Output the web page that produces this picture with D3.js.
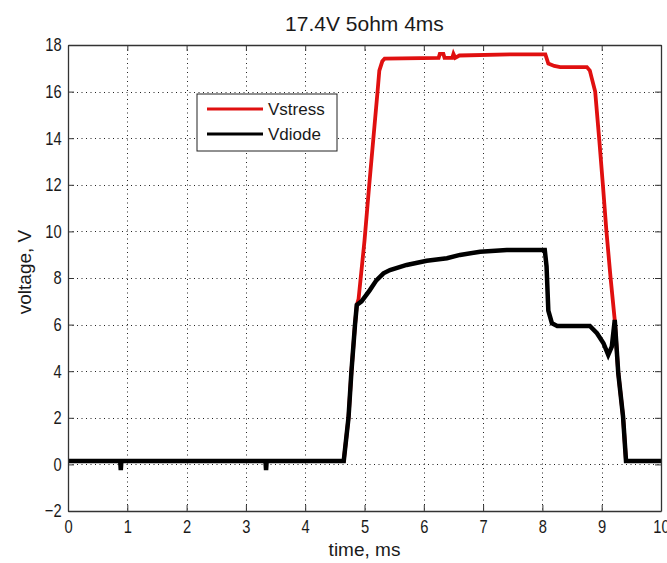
<!DOCTYPE html>
<html>
<head>
<meta charset="utf-8">
<script src="https://cdn.jsdelivr.net/npm/d3@7"></script>
<style>
  html, body { margin: 0; padding: 0; background: #fff; }
  svg text { font-family: "Liberation Sans", Arial, Helvetica, sans-serif; fill: #1a1a1a; }
</style>
</head>
<body>
<svg id="chart" width="667" height="563"></svg>
<script>
// ---- data ----
const titleText = "17.4V 5ohm 4ms";
const xLabel = "time, ms";
const yLabel = "voltage, V";
const xTicks = [0, 1, 2, 3, 4, 5, 6, 7, 8, 9, 10];
const yTicks = [-2, 0, 2, 4, 6, 8, 10, 12, 14, 16, 18];
const seriesNames = ["Vstress", "Vdiode"];
const seriesColors = ["#e01010", "#000000"];

const stressT = [0, 4.65, 4.73, 4.78, 4.84, 4.87, 4.9, 5.0, 5.08, 5.15, 5.22, 5.25, 5.3, 5.34,
  6.25, 6.27, 6.33, 6.35, 6.48, 6.5, 6.53, 6.6, 7.5, 8.05, 8.1, 8.2, 8.3, 8.75, 8.8, 8.83,
  8.89, 8.96, 9.02, 9.08, 9.15, 9.22, 9.28, 9.36, 9.41, 10];
const stressV = [0.15, 0.15, 2, 4, 6, 6.84, 7.1, 9.6, 12, 14, 16, 16.9, 17.3, 17.42,
  17.45, 17.62, 17.62, 17.45, 17.45, 17.62, 17.45, 17.55, 17.6, 17.6, 17.2, 17.1, 17.05, 17.05, 16.9, 16.6,
  16.0, 13.9, 12.0, 10.0, 8.0, 6.2, 3.9, 2.05, 0.15, 0.15];

const diodeT = [0, 0.88, 0.89, 0.9, 3.33, 3.34, 3.35, 4.65, 4.73, 4.78, 4.84, 4.87, 4.95, 5.09,
  5.2, 5.32, 5.43, 5.71, 6.05, 6.39, 6.61, 6.95, 7.4, 8.04, 8.07, 8.1, 8.16, 8.25, 8.8, 8.92,
  9.03, 9.11, 9.17, 9.22, 9.28, 9.36, 9.41, 10];
const diodeV = [0.15, 0.15, -0.25, 0.15, 0.15, -0.25, 0.15, 0.15, 2, 4, 6, 6.84, 7.0, 7.48,
  7.9, 8.2, 8.34, 8.56, 8.74, 8.85, 8.99, 9.13, 9.2, 9.2, 8.5, 6.6, 6.06, 5.94, 5.94, 5.63,
  5.2, 4.7, 5.05, 6.2, 3.9, 2.05, 0.15, 0.15];

// ---- layout ----
const W = 667, H = 563;
const m = { left: 68, right: 6, top: 45, bottom: 52 };
const iw = W - m.left - m.right, ih = H - m.top - m.bottom;

const svg = d3.select("#chart");
const x = d3.scaleLinear().domain([0, 10]).range([m.left, m.left + iw]);
const y = d3.scaleLinear().domain([-2, 18]).range([m.top + ih, m.top]);

svg.append("rect").attr("width", W).attr("height", H).attr("fill", "#fff");

// grid (dotted)
const grid = svg.append("g").attr("stroke", "#222").attr("stroke-width", 1).attr("stroke-dasharray", "1,3.5");
grid.selectAll("line.gx").data(xTicks.slice(1, -1)).join("line")
  .attr("x1", d => Math.round(x(d)) + 0.5).attr("x2", d => Math.round(x(d)) + 0.5)
  .attr("y1", m.top).attr("y2", m.top + ih);
grid.selectAll("line.gy").data(yTicks.slice(1, -1)).join("line")
  .attr("y1", d => Math.round(y(d)) + 0.5).attr("y2", d => Math.round(y(d)) + 0.5)
  .attr("x1", m.left).attr("x2", m.left + iw);

// lines
const line = d3.line().x(d => x(d[0])).y(d => y(d[1]));
const stress = stressT.map((t, i) => [t, stressV[i]]);
const diode = diodeT.map((t, i) => [t, diodeV[i]]);
svg.append("path").datum(stress).attr("d", line).attr("fill", "none")
  .attr("stroke", seriesColors[0]).attr("stroke-width", 3.8).attr("stroke-linejoin", "miter");
svg.append("path").datum(diode).attr("d", line).attr("fill", "none")
  .attr("stroke", seriesColors[1]).attr("stroke-width", 4.5).attr("stroke-linejoin", "miter");

// axes (MATLAB style: box with inward ticks)
const tickLen = 6;
const axB = svg.append("g").attr("transform", `translate(0,${m.top + ih})`)
  .call(d3.axisBottom(x).tickValues(xTicks).tickSizeInner(-tickLen).tickSizeOuter(0).tickPadding(8));
const axT = svg.append("g").attr("transform", `translate(0,${m.top})`)
  .call(d3.axisTop(x).tickValues(xTicks).tickSizeInner(-tickLen).tickSizeOuter(0).tickFormat(""));
const axL = svg.append("g").attr("transform", `translate(${m.left},0)`)
  .call(d3.axisLeft(y).tickValues(yTicks).tickSizeInner(-tickLen).tickSizeOuter(0).tickPadding(7));
const axR = svg.append("g").attr("transform", `translate(${m.left + iw},0)`)
  .call(d3.axisRight(y).tickValues(yTicks).tickSizeInner(-tickLen).tickSizeOuter(0).tickFormat(""));
[axB, axT, axL, axR].forEach(a => {
  a.select(".domain").attr("stroke", "#333").attr("stroke-width", 1.3);
  a.selectAll(".tick line").attr("stroke", "#333").attr("stroke-width", 1);
  a.selectAll("text").attr("font-size", 16).attr("fill", "#1a1a1a")
    .attr("font-family", "'Liberation Sans', Arial, sans-serif")
    .attr("transform", "scale(0.92,1.15)");
});

// title and axis labels
svg.append("text").attr("x", m.left + iw / 2).attr("y", 31).attr("text-anchor", "middle")
  .attr("font-size", 21).attr("fill", "#222").text(titleText);
svg.append("text").attr("x", m.left + iw / 2).attr("y", 556).attr("text-anchor", "middle")
  .attr("font-size", 19).attr("fill", "#222").text(xLabel);
svg.append("text").attr("transform", `translate(31,${m.top + ih / 2 - 6}) rotate(-90)`)
  .attr("text-anchor", "middle").attr("font-size", 19).attr("fill", "#222").text(yLabel);

// legend
const lg = svg.append("g").attr("transform", "translate(197,94)");
lg.append("rect").attr("width", 140).attr("height", 57).attr("fill", "#fff")
  .attr("stroke", "#222").attr("stroke-width", 1);
seriesNames.forEach((name, i) => {
  const yy = 15 + i * 25;
  lg.append("line").attr("x1", 10).attr("x2", 66).attr("y1", yy).attr("y2", yy)
    .attr("stroke", seriesColors[i]).attr("stroke-width", 3);
  lg.append("text").attr("x", 71).attr("y", yy + 6).attr("font-size", 17).attr("fill", "#222").text(name);
});
</script>
</body>
</html>
